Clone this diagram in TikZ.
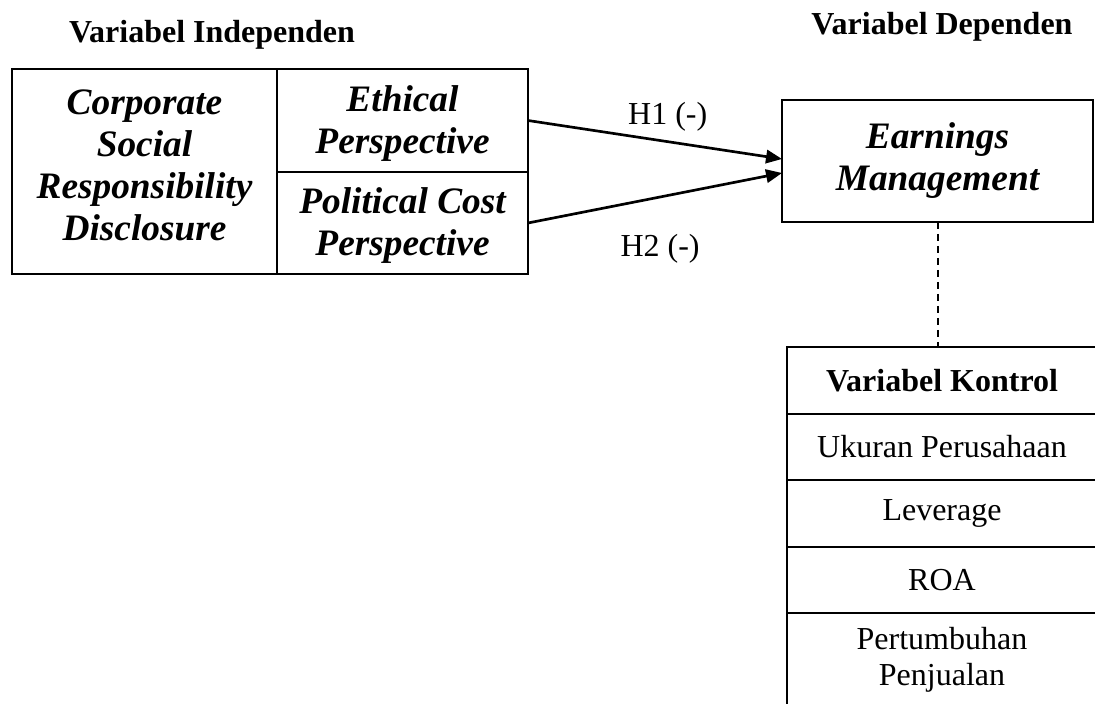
\documentclass[tikz,border=0pt]{standalone}
\usepackage{fontspec}
\setmainfont{Liberation Serif}
\usetikzlibrary{positioning, arrows.meta}
\tikzset{>={Triangle[length=6pt, width=5pt]},
    cell/.style={draw, line width=0.75pt, outer sep=0pt, inner sep=0pt, align=center},
    varname/.style={font=\fontsize{14}{15.75}\selectfont\bfseries\itshape},
    ctrlname/.style={font=\fontsize{12}{13.8}\selectfont},
    heading/.style={font=\fontsize{12}{13.8}\selectfont\bfseries}}

\begin{document}
\begin{tikzpicture}[x=0.375pt, y=-0.375pt]
    \clip (0,0) rectangle (1095,704);
    \node[heading] (indep) at (212,35) {Variabel Independen};
    \node[heading] (dep) at (942,27) {Variabel Dependen};
    \node[cell, varname, minimum width=99.4pt, minimum height=76.875pt] (csr) at (144.5,171.5) {Corporate\\Social\\Responsibility\\Disclosure\rule[-4.5pt]{0pt}{4.5pt}};
    \node[cell, varname, minimum width=94.1pt, minimum height=38.625pt, anchor=north west] (ethic) at (csr.north east) {\rule{0pt}{11.8pt}Ethical\\Perspective};
    \node[cell, varname, minimum width=94.1pt, minimum height=38.25pt, below=0pt of ethic] (polit) {\rule{0pt}{11.8pt}Political Cost\\Perspective};
    \node[cell, varname, minimum width=116.6pt, minimum height=45.75pt] (earn) at (937.5,161) {Earnings\\Management};
    \node[cell, heading, minimum width=116.25pt, minimum height=25.1pt] (ctrl) at (942,380.5) {Variabel Kontrol};
    \node[cell, ctrlname, minimum width=116.25pt, minimum height=24.75pt, below=0pt of ctrl] (size) {Ukuran Perusahaan};
    \node[cell, ctrlname, minimum width=116.25pt, minimum height=25.1pt, below=0pt of size] (lev) {Leverage};
    \node[cell, ctrlname, minimum width=116.25pt, minimum height=24.75pt, below=0pt of lev] (roa) {ROA};
    \node[cell, ctrlname, minimum width=116.25pt, minimum height=40.1pt, below=0pt of roa] (growth) {Pertumbuhan\\Penjualan\rule[-7.5pt]{0pt}{7.5pt}};
    \draw[->, line width=1pt] (ethic.east) -- ([yshift=0.75pt]earn.west)
        node[ctrlname, pos=0.55, above=0pt] (h1) {H1 (-)};
    \draw[->, line width=1pt] (polit.east) -- ([yshift=-4.5pt]earn.west)
        node[ctrlname, pos=0.52, below=10.3pt] (h2) {H2 (-)};
    \draw[dashed, dash pattern=on 2.6pt off 1.9pt, line width=0.75pt] (earn.south) -- (earn.south |- ctrl.north);
\end{tikzpicture}
\end{document}
